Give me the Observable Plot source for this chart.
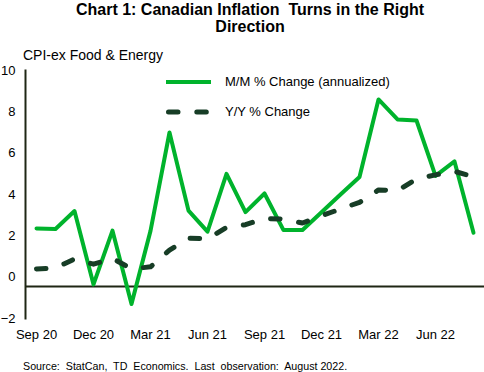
<!DOCTYPE html>
<html><head><meta charset="utf-8">
<script src="https://cdn.jsdelivr.net/npm/d3@7"></script>
<script src="https://cdn.jsdelivr.net/npm/@observablehq/plot@0.6"></script>
<style>
body{margin:0;background:#fff;font-family:"Liberation Sans",Arial,sans-serif;color:#000;}
#wrap{position:relative;width:484px;height:372px;overflow:hidden;background:#fff;}
#title{position:absolute;left:0;top:1px;width:500px;text-align:center;font-weight:bold;font-size:16px;line-height:17px;white-space:pre;}
#subtitle{position:absolute;left:23px;top:47px;font-size:14px;line-height:16px;white-space:nowrap;}
#chart{position:absolute;left:0;top:62px;}
#legend{position:absolute;left:0;top:0;}
.lg{position:absolute;left:166px;font-size:13px;line-height:16px;white-space:nowrap;}
.lg svg{position:absolute;left:0;top:0;}
.lg span{position:absolute;left:59px;top:0;}
#source{position:absolute;left:23px;top:360px;font-size:10.7px;line-height:12px;white-space:pre;}
</style>
</head><body>
<div id="wrap">
  <div id="title"></div>
  <div id="subtitle">CPI-ex Food &amp; Energy</div>
  <div id="chart"></div>
  <div id="legend"></div>
  <div id="source"></div>
</div>
<script>
const months = ["Sep 20","Oct 20","Nov 20","Dec 20","Jan 21","Feb 21","Mar 21","Apr 21","May 21","Jun 21","Jul 21","Aug 21","Sep 21","Oct 21","Nov 21","Dec 21","Jan 22","Feb 22","Mar 22","Apr 22","May 22","Jun 22","Jul 22","Aug 22"];
const mmChange = [2.36, 2.33, 3.2, -0.35, 2.25, -1.3, 2.24, 7.0, 3.22, 2.2, 5.0, 3.15, 4.05, 2.28, 2.28, 3.14, 4.0, 4.85, 8.6, 7.63, 7.58, 4.9, 5.6, 2.15];
const yyChange = [0.4, 0.45, 0.88, 0.63, 0.91, 0.4, 0.5, 1.31, 1.89, 1.85, 2.41, 2.54, 2.84, 2.81, 2.62, 2.97, 3.3, 3.62, 4.22, 4.19, 4.75, 4.95, 5.12, 4.86];
const xTickLabels = ["Sep 20","Dec 20","Mar 21","Jun 21","Sep 21","Dec 21","Mar 22","Jun 22"];
const yTicks = [-2, 0, 2, 4, 6, 8, 10];
const axisCross = -0.45;
const seriesNames = ["M/M % Change (annualized)", "Y/Y % Change"];
const titleLines = ["Chart 1: Canadian Inflation  Turns in the Right", "Direction"];
const sourceText = "Source:  StatCan,  TD  Economics.  Last  observation:  August 2022.";

const green = "#00b32c";
const dark = "#173d26";
const axisColor = "#1f2614";

const data = months.map((m, i) => ({month: m, mm: mmChange[i], yy: yyChange[i]}));

const chart = Plot.plot({
  width: 484, height: 290,
  marginTop: 8, marginBottom: 34, marginLeft: 25, marginRight: 0,
  insetLeft: 10, insetRight: 10.4,
  style: {fontFamily: "Liberation Sans, Arial, sans-serif", fontSize: "13px", color: "#000", background: "transparent"},
  x: {type: "point", domain: months, padding: 0, label: null},
  y: {domain: [-2, 10], label: null},
  marks: [
    Plot.axisX({ticks: xTickLabels, tickSize: 0, tickPadding: 11, label: null, fontSize: 13}),
    Plot.axisY({ticks: yTicks, tickSize: 0, tickPadding: 10, label: null, fontSize: 13}),
    Plot.frame({anchor: "left", stroke: axisColor, strokeWidth: 2}),
    Plot.ruleY([axisCross], {stroke: axisColor, strokeWidth: 2}),
    Plot.line(data, {x: "month", y: "mm", stroke: green, strokeWidth: 4, strokeLinejoin: "round"}),
    Plot.line(data, {x: "month", y: "yy", stroke: dark, strokeWidth: 5, strokeDasharray: "9.5,18.8", strokeLinecap: "round", strokeLinejoin: "round"})
  ]
});
document.getElementById("chart").appendChild(chart);
document.getElementById("title").textContent = titleLines.join("\n");

// legend
const legend = document.getElementById("legend");
const rows = [
  {name: seriesNames[0], top: 74, stroke: green, width: 4, dash: null, len: 45},
  {name: seriesNames[1], top: 104, stroke: dark, width: 5, dash: "9.5,18.8", len: 42}
];
rows.forEach(r => {
  const div = document.createElement("div");
  div.className = "lg";
  div.style.top = r.top + "px";
  const ns = "http://www.w3.org/2000/svg";
  const s = document.createElementNS(ns, "svg");
  s.setAttribute("width", 50); s.setAttribute("height", 16);
  const l = document.createElementNS(ns, "line");
  l.setAttribute("x1", r.dash ? 2.5 : 0); l.setAttribute("x2", r.len);
  l.setAttribute("y1", 8); l.setAttribute("y2", 8);
  l.setAttribute("stroke", r.stroke); l.setAttribute("stroke-width", r.width);
  if (r.dash) { l.setAttribute("stroke-dasharray", r.dash); l.setAttribute("stroke-linecap", "round"); }
  s.appendChild(l);
  div.appendChild(s);
  const sp = document.createElement("span");
  sp.textContent = r.name;
  div.appendChild(sp);
  legend.appendChild(div);
});
document.getElementById("source").textContent = sourceText;
</script>
</body></html>
